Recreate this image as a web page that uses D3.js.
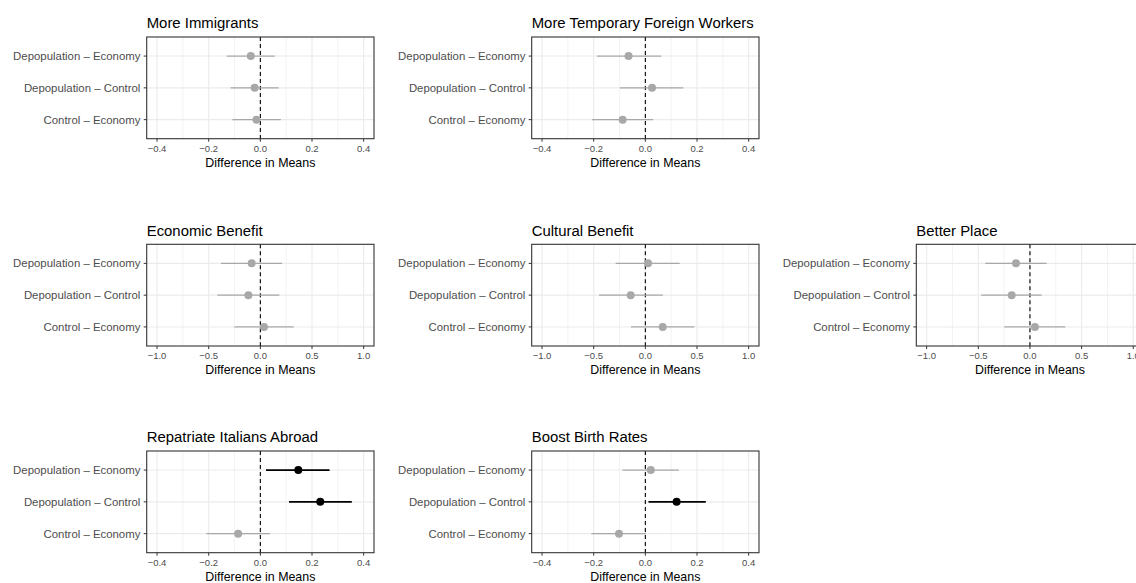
<!DOCTYPE html>
<html>
<head>
<meta charset="utf-8">
<script src="https://cdn.jsdelivr.net/npm/d3@7"></script>
<style>
  html, body { margin: 0; padding: 0; background: #fff; }
  svg { display: block; font-family: "Liberation Sans", Arial, sans-serif; }
</style>
</head>
<body>
<div id="chart"></div>
<script>
// ---- data ----
const outcomes = [
  "More Immigrants",
  "More Temporary Foreign Workers",
  "Economic Benefit",
  "Cultural Benefit",
  "Better Place",
  "Repatriate Italians Abroad",
  "Boost Birth Rates"
];
const comparisons = ["Depopulation – Economy", "Depopulation – Control", "Control – Economy"];

// point estimates per outcome, in the order of `comparisons`
const pointEstimates = [
  [-0.037, -0.022, -0.015],
  [-0.065,  0.026, -0.088],
  [-0.084, -0.116,  0.035],
  [ 0.026, -0.142,  0.168],
  [-0.135, -0.177,  0.048],
  [ 0.147,  0.232, -0.086],
  [ 0.021,  0.121, -0.102]
];
const lowerBounds = [
  [-0.130, -0.115, -0.108],
  [-0.187, -0.098, -0.206],
  [-0.381, -0.416, -0.252],
  [-0.287, -0.448, -0.139],
  [-0.432, -0.471, -0.248],
  [ 0.022,  0.111, -0.209],
  [-0.089,  0.012, -0.209]
];
const upperBounds = [
  [ 0.056,  0.071,  0.079],
  [ 0.061,  0.147,  0.030],
  [ 0.210,  0.184,  0.323],
  [ 0.332,  0.168,  0.474],
  [ 0.161,  0.113,  0.342],
  [ 0.268,  0.354,  0.037],
  [ 0.130,  0.234,  0.002]
];
// which axis scale each outcome uses
const axisGroup = ["narrow", "narrow", "wide", "wide", "wide", "narrow", "narrow"];
const narrowTicks = [-0.4, -0.2, 0, 0.2, 0.4];
const narrowMinor = [-0.3, -0.1, 0.1, 0.3];
const wideTicks = [-1, -0.5, 0, 0.5, 1];
const wideMinor = [-0.75, -0.25, 0.25, 0.75];
const xTitle = "Difference in Means";

// ---- layout ----
const W = 1136, H = 583;
const panelW = 227.3, panelH = 101.7;
const colLeft = [146.7, 531.7, 916.3];
const rowTop = [37, 244.3, 451];
const panelCell = [[0,0],[0,1],[1,0],[1,1],[1,2],[2,0],[2,1]];

const svg = d3.select("#chart").append("svg")
  .attr("width", W).attr("height", H)
  .attr("viewBox", `0 0 ${W} ${H}`);

const fmt = d3.format(".1f");
const gray = "#a8a8a8";

outcomes.forEach((title, i) => {
  const [r, c] = panelCell[i];
  const x0 = colLeft[c], y0 = rowTop[r];
  const g = svg.append("g").attr("transform", `translate(${x0},${y0})`);

  const lim = axisGroup[i] === "narrow" ? 0.4 : 1.0;
  const ticks = axisGroup[i] === "narrow" ? narrowTicks : wideTicks;
  const minor = axisGroup[i] === "narrow" ? narrowMinor : wideMinor;
  const x = d3.scaleLinear().domain([-lim * 1.1, lim * 1.1]).range([0, panelW]);
  const y = d3.scalePoint().domain(comparisons).range([0, panelH]).padding(0.6);

  // panel background
  g.append("rect").attr("width", panelW).attr("height", panelH).attr("fill", "#fff");

  // minor grid
  g.selectAll(".minor").data(minor).join("line")
    .attr("x1", d => x(d)).attr("x2", d => x(d))
    .attr("y1", 0).attr("y2", panelH)
    .attr("stroke", "#ebebeb").attr("stroke-width", 0.6);
  // major grid
  g.selectAll(".majx").data(ticks).join("line")
    .attr("x1", d => x(d)).attr("x2", d => x(d))
    .attr("y1", 0).attr("y2", panelH)
    .attr("stroke", "#ebebeb").attr("stroke-width", 1.1);
  g.selectAll(".majy").data(comparisons).join("line")
    .attr("x1", 0).attr("x2", panelW)
    .attr("y1", d => y(d)).attr("y2", d => y(d))
    .attr("stroke", "#ebebeb").attr("stroke-width", 1.1);

  // zero reference line
  g.append("line")
    .attr("x1", x(0)).attr("x2", x(0)).attr("y1", 0).attr("y2", panelH)
    .attr("stroke", "#000").attr("stroke-width", 1.1)
    .attr("stroke-dasharray", "4,3");

  // data
  const rows = comparisons.map((cmp, j) => ({
    cmp,
    est: pointEstimates[i][j],
    lo: lowerBounds[i][j],
    hi: upperBounds[i][j]
  }));
  const sig = d => d.lo > 0 || d.hi < 0;

  g.selectAll(".ci").data(rows).join("line")
    .attr("x1", d => x(d.lo)).attr("x2", d => x(d.hi))
    .attr("y1", d => y(d.cmp)).attr("y2", d => y(d.cmp))
    .attr("stroke", d => sig(d) ? "#000" : gray)
    .attr("stroke-width", d => sig(d) ? 1.7 : 1.2);
  g.selectAll(".pt").data(rows).join("circle")
    .attr("cx", d => x(d.est)).attr("cy", d => y(d.cmp))
    .attr("r", 4)
    .attr("fill", d => sig(d) ? "#000" : gray);

  // panel border
  g.append("rect").attr("width", panelW).attr("height", panelH)
    .attr("fill", "none").attr("stroke", "#333").attr("stroke-width", 1.1);

  // x axis
  const xa = g.append("g").attr("transform", `translate(0,${panelH})`);
  xa.selectAll("line").data(ticks).join("line")
    .attr("x1", d => x(d)).attr("x2", d => x(d))
    .attr("y1", 0).attr("y2", 3)
    .attr("stroke", "#333").attr("stroke-width", 1);
  xa.selectAll("text").data(ticks).join("text")
    .attr("x", d => x(d)).attr("y", 13)
    .attr("text-anchor", "middle")
    .attr("font-size", "9.5px").attr("fill", "#4d4d4d")
    .text(d => fmt(d));
  g.append("text")
    .attr("x", panelW / 2).attr("y", panelH + 28)
    .attr("text-anchor", "middle")
    .attr("font-size", "12.4px").attr("fill", "#000")
    .text(xTitle);

  // y axis
  const ya = g.append("g");
  ya.selectAll("line").data(comparisons).join("line")
    .attr("x1", -3).attr("x2", 0)
    .attr("y1", d => y(d)).attr("y2", d => y(d))
    .attr("stroke", "#333").attr("stroke-width", 1);
  ya.selectAll("text").data(comparisons).join("text")
    .attr("x", -6.3).attr("y", d => y(d)).attr("dy", "0.35em")
    .attr("text-anchor", "end")
    .attr("font-size", "11.4px").attr("fill", "#4d4d4d")
    .text(d => d);

  // title
  g.append("text")
    .attr("x", 0).attr("y", -8.6)
    .attr("font-size", "14.9px").attr("fill", "#000")
    .text(title);
});
</script>
</body>
</html>
